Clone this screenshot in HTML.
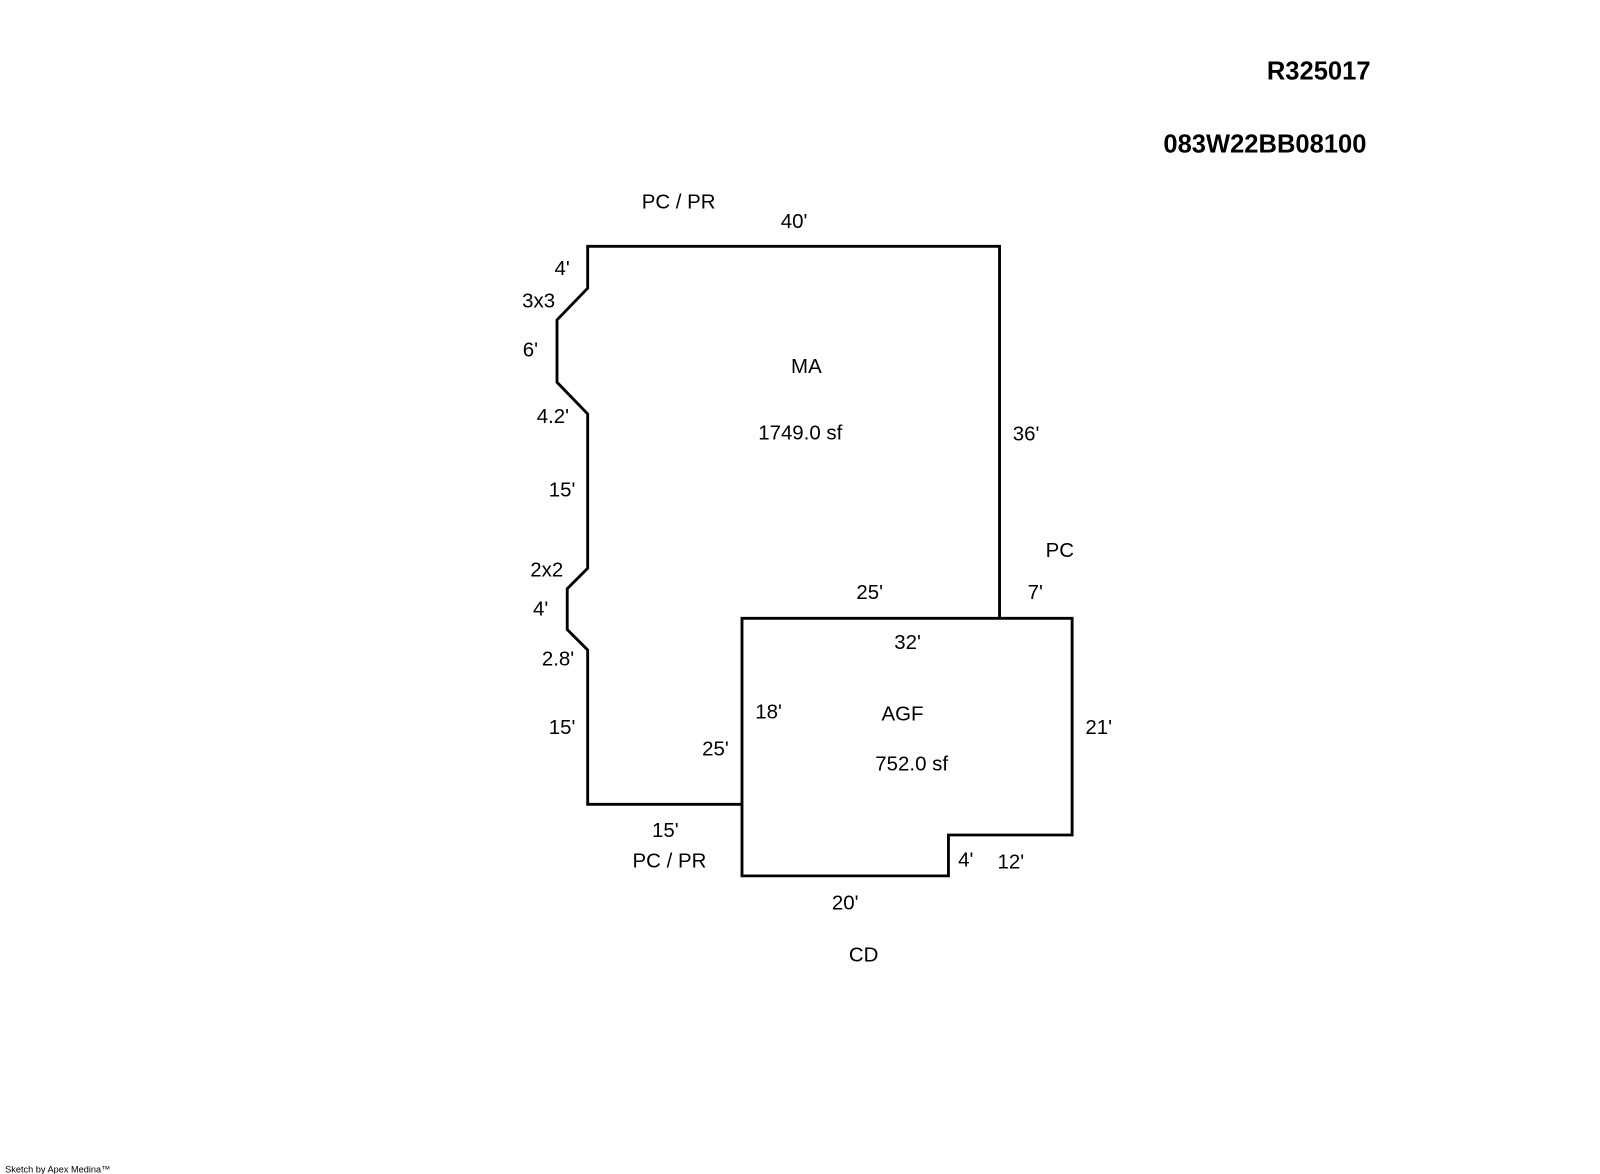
<!DOCTYPE html>
<html><head><meta charset="utf-8"><style>
html,body{margin:0;padding:0;background:#fff;}
svg{display:block;}
text{font-family:"Liberation Sans",Arial,sans-serif;font-size:20px;fill:#000;text-anchor:middle;}
.b{font-weight:bold;font-size:25px;text-anchor:end;}
</style></head><body>
<svg width="1600" height="1174" viewBox="0 0 1565.5 1148.7" preserveAspectRatio="none" xmlns="http://www.w3.org/2000/svg">
<g fill="none" stroke="#000" stroke-width="2.8" stroke-linejoin="miter">
<polyline points="726,787 575,787 575,636 555,616 555,576 575,556 575,405 545,374 545,313 575,282 575,241 978,241 978,605"/>
<polygon points="726,605 978,605 1049,605 1049,817 928,817 928,857 726,857"/>
</g>
<g transform="translate(0,-1)">
<text class="b" x="1341" y="79">R325017</text>
<text class="b" x="1337" y="150">083W22BB08100</text>
<text x="664" y="205">PC / PR</text>
<text x="777" y="224">40'</text>
<text x="550" y="270">4'</text>
<text x="527" y="302">3x3</text>
<text x="519" y="350">6'</text>
<text x="789" y="366">MA</text>
<text x="783" y="431">1749.0 sf</text>
<text x="541" y="415">4.2'</text>
<text x="1004" y="432">36'</text>
<text x="550" y="487">15'</text>
<text x="1037" y="546">PC</text>
<text x="535" y="565">2x2</text>
<text x="851" y="587">25'</text>
<text x="1013" y="587">7'</text>
<text x="529" y="603">4'</text>
<text x="888" y="636">32'</text>
<text x="546" y="652">2.8'</text>
<text x="752" y="704">18'</text>
<text x="883" y="706">AGF</text>
<text x="1075" y="719">21'</text>
<text x="550" y="719">15'</text>
<text x="700" y="740">25'</text>
<text x="892" y="755">752.0 sf</text>
<text x="651" y="820">15'</text>
<text x="655" y="850">PC / PR</text>
<text x="945" y="849">4'</text>
<text x="989" y="851">12'</text>
<text x="827" y="891">20'</text>
<text x="845" y="942">CD</text>
</g>
<text x="5" y="1147" style="font-size:9px;text-anchor:start">Sketch by Apex Medina™</text>
</svg>
</body></html>
